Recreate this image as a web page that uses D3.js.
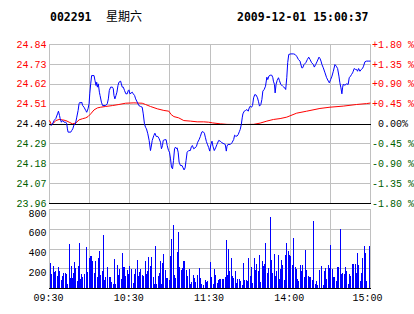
<!DOCTYPE html>
<html>
<head>
<meta charset="utf-8">
<script src="https://cdn.jsdelivr.net/npm/d3@7"></script>
<style>
    body { margin: 0; background: #fff; }
    text { font-family: "Liberation Mono", "DejaVu Sans Mono", monospace; font-size: 10px; }
    .head { font-family: "DejaVu Sans Mono", monospace; font-weight: bold; font-size: 11.5px; }
    .cjk { font-family: "Noto Sans CJK SC", sans-serif; font-size: 12px; }
    .grid line { stroke: #c0c0c0; shape-rendering: crispEdges; }
</style>
</head>
<body>
<div id="chart"></div>
<script>
// header
const stockCode = "002291";
const weekday = "星期六";
const stamp = "2009-12-01 15:00:37";

const prevClose = 24.40;
const priceTicks = [24.84, 24.73, 24.62, 24.51, 24.40, 24.29, 24.18, 24.07, 23.96];
const pctTicks = ["+1.80 %", "+1.35 %", "+0.90 %", "+0.45 %", " 0.00%", "-0.45 %", "-0.90 %", "-1.35 %", "-1.80 %"];
const volTicks = [200, 400, 600, 800];
const gridMins = [0, 30, 60, 90, 120, 150, 180, 210, 240];
const timeTicks = [0, 60, 120, 180, 240];
const timeLabels = ["09:30", "10:30", "11:30", "14:00", "15:00"];

// minutes since 09:30 (lunch break removed) and price
const priceMin = [1.0, 2.2, 3.5, 4.7, 6.0, 6.7, 7.5, 8.0, 8.9, 9.7, 10.9, 12.2, 12.9, 13.4, 13.9, 15.9, 16.6, 17.4, 18.4, 19.4,
    20.4, 21.4, 22.1, 22.9, 23.4, 24.1, 24.8, 25.8, 27.1, 27.8, 28.8, 29.6, 30.1, 30.8, 31.5, 33.3, 34.0, 34.8, 35.3, 35.8,
    36.5, 37.3, 37.8, 38.8, 39.7, 42.0, 43.2, 44.0, 44.7, 45.7, 47.0, 47.7, 48.2, 48.9, 49.7, 50.4, 51.2, 51.9, 53.2, 53.7,
    54.4, 55.2, 56.1, 57.1, 58.1, 58.9, 59.4, 60.1, 61.9, 62.6, 63.6, 64.4, 65.6, 66.8, 68.1, 69.3, 70.1, 71.0, 71.8, 72.5,
    73.5, 74.5, 75.5, 76.0, 76.8, 78.0, 78.8, 79.8, 81.0, 82.0, 83.0, 83.7, 84.5, 85.0, 86.2, 87.2, 88.0, 89.0, 89.7, 90.5,
    91.2, 92.0, 92.7, 93.5, 94.2, 95.0, 95.4, 96.2, 96.9, 97.9, 99.1, 99.9, 100.6, 101.4, 102.1, 102.9, 104.1, 105.3, 106.1, 106.8,
    107.8, 108.8, 109.8, 110.8, 111.8, 112.8, 113.8, 114.8, 115.8, 116.5, 117.3, 118.2, 119.0, 119.8, 120.7, 121.5, 122.2, 123.2, 124.2, 125.2,
    126.5, 127.7, 128.9, 131.4, 132.2, 132.7, 133.4, 135.2, 136.4, 137.7, 138.4, 139.2, 140.2, 141.1, 141.9, 142.6, 143.4, 144.1, 144.6, 145.6,
    146.6, 147.6, 148.6, 149.3, 150.1, 151.1, 151.8, 152.6, 153.5, 154.5, 155.5, 156.3, 157.0, 158.0, 158.8, 159.5, 160.5, 161.5, 162.5, 163.2,
    164.0, 165.0, 166.2, 167.0, 167.4, 168.2, 168.7, 169.4, 170.2, 171.2, 171.9, 172.9, 173.6, 174.4, 175.1, 175.9, 176.6, 177.4, 178.1, 178.9,
    180.4, 182.4, 183.6, 184.8, 186.1, 187.3, 188.6, 189.3, 190.3, 191.6, 192.8, 193.8, 194.8, 196.0, 197.3, 198.0, 199.0, 200.2, 201.5, 202.2,
    203.0, 203.7, 204.7, 206.0, 207.2, 208.5, 209.2, 210.2, 211.2, 212.2, 213.4, 214.4, 215.4, 216.4, 217.1, 217.9, 218.6, 219.1, 219.6, 220.9,
    222.1, 223.3, 224.1, 225.1, 225.8, 226.6, 227.1, 227.8, 228.8, 229.6, 230.3, 231.1, 232.1, 233.1, 234.0, 234.8, 235.8, 237.0, 238.3, 240.0];
const price = [24.39, 24.40, 24.42, 24.43, 24.456, 24.471, 24.447, 24.429, 24.41, 24.419, 24.41, 24.41, 24.401, 24.373, 24.355, 24.355, 24.364, 24.373, 24.397, 24.401,
    24.438, 24.475, 24.512, 24.521, 24.515, 24.521, 24.502, 24.493, 24.475, 24.465, 24.484, 24.512, 24.567, 24.622, 24.668, 24.668, 24.641, 24.613, 24.631, 24.604,
    24.622, 24.576, 24.558, 24.521, 24.502, 24.502, 24.512, 24.539, 24.585, 24.604, 24.604, 24.595, 24.558, 24.539, 24.558, 24.576, 24.613, 24.631, 24.637, 24.622,
    24.604, 24.604, 24.585, 24.567, 24.567, 24.585, 24.589, 24.567, 24.576, 24.567, 24.558, 24.539, 24.521, 24.502, 24.497, 24.493, 24.456, 24.401, 24.382, 24.373,
    24.346, 24.309, 24.253, 24.272, 24.309, 24.336, 24.349, 24.331, 24.331, 24.318, 24.299, 24.263, 24.281, 24.309, 24.313, 24.313, 24.281, 24.253, 24.244, 24.207,
    24.161, 24.152, 24.198, 24.263, 24.272, 24.263, 24.268, 24.244, 24.189, 24.17, 24.17, 24.157, 24.146, 24.157, 24.198, 24.244, 24.253, 24.253, 24.275, 24.281,
    24.263, 24.268, 24.275, 24.299, 24.313, 24.331, 24.355, 24.358, 24.349, 24.327, 24.303, 24.285, 24.27, 24.25, 24.287, 24.305, 24.277, 24.253, 24.268, 24.287,
    24.309, 24.305, 24.296, 24.287, 24.25, 24.277, 24.287, 24.287, 24.296, 24.314, 24.338, 24.333, 24.333, 24.342, 24.357, 24.37, 24.397, 24.434, 24.456, 24.471,
    24.475, 24.48, 24.471, 24.489, 24.499, 24.493, 24.502, 24.545, 24.563, 24.56, 24.545, 24.523, 24.499, 24.508, 24.536, 24.582, 24.591, 24.609, 24.659, 24.646,
    24.665, 24.67, 24.67, 24.656, 24.637, 24.619, 24.572, 24.619, 24.641, 24.656, 24.641, 24.619, 24.615, 24.609, 24.604, 24.60, 24.591, 24.656, 24.74, 24.785,
    24.788, 24.788, 24.785, 24.775, 24.757, 24.748, 24.711, 24.711, 24.729, 24.739, 24.757, 24.77, 24.757, 24.739, 24.729, 24.715, 24.729, 24.748, 24.77, 24.763,
    24.748, 24.729, 24.711, 24.683, 24.656, 24.637, 24.628, 24.646, 24.665, 24.692, 24.729, 24.72, 24.707, 24.665, 24.628, 24.60, 24.567, 24.60, 24.619, 24.615,
    24.622, 24.619, 24.656, 24.665, 24.674, 24.683, 24.692, 24.707, 24.702, 24.702, 24.692, 24.707, 24.692, 24.702, 24.707, 24.72, 24.744, 24.748, 24.748, 24.748];

// average price line
const avgMin = [0, 1.5, 3.0, 4.7, 7.2, 9.7, 12.2, 14.7, 17.1, 19.6, 22.1, 24.6, 27.1, 28.8, 30.8, 33.3, 35.8, 38.3, 42.0, 47.0,
    51.9, 56.9, 63.1, 69.3, 71.8, 75.5, 80.6, 85.5, 89.2, 91.0, 93.0, 96.6, 100.4, 105.3, 110.4, 115.3, 119.0, 122.0, 127.7, 132.7,
    142.6, 152.6, 157.5, 162.5, 167.4, 172.4, 177.4, 184.8, 192.3, 202.2, 209.7, 219.6, 229.6, 237.0, 240.0];
const avgPrice = [24.42, 24.395, 24.405, 24.419, 24.425, 24.423, 24.419, 24.41, 24.401, 24.405, 24.423, 24.429, 24.434, 24.441, 24.456, 24.478, 24.489, 24.493, 24.497, 24.502,
    24.508, 24.515, 24.517, 24.515, 24.508, 24.497, 24.484, 24.475, 24.471, 24.452, 24.441, 24.434, 24.419, 24.416, 24.412, 24.412, 24.41, 24.406, 24.401, 24.398,
    24.397, 24.398, 24.405, 24.416, 24.425, 24.43, 24.438, 24.46, 24.471, 24.486, 24.493, 24.499, 24.508, 24.513, 24.516];

// volume bars
const volMin = [1.0, 1.7, 3.0, 3.7, 4.5, 6.0, 7.0, 7.7, 9.0, 9.7, 10.4, 11.9, 12.7, 13.4, 14.9, 15.6, 16.4, 17.1, 17.9, 18.9,
    19.6, 20.9, 21.6, 22.4, 23.3, 24.1, 24.8, 26.3, 27.6, 28.3, 29.8, 30.6, 31.3, 32.5, 33.5, 34.3, 35.8, 36.5, 37.3, 38.5,
    39.5, 40.2, 41.2, 42.2, 43.2, 44.5, 45.5, 46.4, 47.7, 48.4, 49.4, 50.7, 51.4, 52.2, 53.7, 54.4, 55.4, 56.4, 57.1, 58.1,
    59.1, 60.1, 61.1, 62.6, 63.3, 64.3, 65.6, 66.3, 67.3, 68.3, 69.3, 70.3, 71.8, 72.3, 73.0, 74.3, 75.3, 76.3, 77.5, 78.2,
    79.2, 80.2, 81.2, 82.0, 82.7, 84.0, 84.7, 85.2, 86.4, 87.2, 88.4, 89.4, 90.4, 91.2, 92.7, 93.4, 94.1, 95.4, 96.4, 97.1,
    98.4, 99.4, 100.1, 101.3, 102.1, 103.1, 104.3, 105.3, 106.1, 107.3, 108.1, 109.0, 110.3, 111.0, 112.0, 113.0, 114.0, 115.0, 116.3, 117.2,
    118.3, 120.2, 121.0, 122.5, 123.2, 124.0, 125.5, 126.2, 126.9, 128.2, 129.2, 129.9, 131.4, 132.2, 132.9, 134.2, 134.9, 135.9, 137.1, 137.9,
    138.9, 140.1, 140.9, 141.9, 143.1, 144.1, 144.8, 146.1, 147.1, 147.8, 149.1, 150.1, 150.8, 152.0, 153.0, 153.8, 155.0, 156.0, 156.8, 158.0,
    159.0, 159.7, 160.7, 161.7, 162.7, 163.7, 165.0, 165.7, 167.0, 167.9, 168.7, 169.9, 170.9, 171.7, 172.7, 173.6, 174.4, 175.6, 176.6, 177.4,
    178.4, 179.4, 180.4, 181.6, 182.8, 183.6, 184.3, 185.3, 186.3, 187.6, 188.6, 189.5, 190.5, 191.5, 192.3, 193.5, 194.5, 195.5, 196.7, 197.7,
    198.7, 199.7, 200.7, 201.7, 203.0, 203.7, 204.5, 205.7, 206.4, 207.4, 208.7, 209.4, 210.4, 211.4, 212.4, 213.4, 214.4, 215.4, 216.4, 217.6,
    218.6, 219.4, 220.6, 221.3, 222.3, 223.6, 224.6, 225.3, 226.6, 227.5, 228.5, 229.5, 230.5, 231.3, 232.3, 233.3, 234.3, 235.5, 236.3, 237.2,
    239.5];
const vol = [253, 145, 226, 159, 176, 125, 216, 176, 84, 125, 155, 155, 145, 44, 449, 105, 226, 105, 152, 267,
    206, 74, 226, 459, 95, 145, 115, 145, 419, 165, 307, 327, 327, 277, 155, 277, 115, 307, 378, 135,
    176, 540, 84, 115, 216, 115, 115, 64, 44, 297, 44, 236, 135, 196, 95, 358, 216, 216, 125, 186,
    145, 226, 196, 54, 145, 196, 287, 125, 165, 196, 135, 125, 277, 145, 176, 317, 226, 317, 115, 44,
    429, 44, 125, 155, 277, 44, 257, 348, 186, 105, 105, 84, 327, 500, 641, 135, 105, 368, 571, 216,
    186, 206, 277, 277, 186, 125, 196, 44, 64, 135, 105, 64, 135, 125, 206, 105, 44, 34, 84, 64,
    74, 267, 108, 44, 196, 135, 47, 84, 95, 95, 95, 95, 111, 490, 135, 398, 169, 304, 125, 101,
    176, 47, 95, 95, 74, 34, 253, 84, 84, 74, 307, 118, 216, 47, 307, 186, 246, 176, 338, 64,
    277, 226, 246, 459, 155, 206, 722, 287, 155, 348, 125, 176, 338, 95, 196, 287, 236, 84, 338, 459,
    378, 338, 327, 236, 510, 216, 196, 95, 74, 236, 176, 236, 115, 388, 186, 125, 108, 115, 84, 682,
    44, 74, 34, 186, 186, 226, 34, 176, 206, 95, 236, 206, 439, 196, 115, 115, 74, 216, 216, 601,
    145, 155, 145, 216, 176, 44, 145, 125, 246, 246, 246, 155, 358, 236, 74, 155, 307, 429, 358, 74,
    429];

const W = 414, H = 314;
const left = 49, right = 370;
const priceTop = 44, priceBot = 203;
const volTop = 209, volBot = 288;

const svg = d3.select("#chart").append("svg")
    .attr("width", W)
    .attr("height", H);

const x = d3.scaleLinear().domain([0, 240]).range([left, right]);
const y = d3.scaleLinear().domain([23.96, 24.84]).range([priceBot, priceTop]);
const yv = d3.scaleLinear().domain([0, 800]).range([volBot, volTop]);

const green = "#006000", red = "#ff0000";
const tickColor = (v) => v > prevClose + 0.001 ? red : (v < prevClose - 0.001 ? green : "#000");

// header
svg.append("text").attr("class", "head").attr("x", 50).attr("y", 20.5).text(stockCode);
svg.append("text").attr("class", "cjk").attr("x", 106).attr("y", 20.5).text(weekday);
svg.append("text").attr("class", "head").attr("x", 237).attr("y", 20.5).text(stamp);

// price grid + left labels
svg.append("g")
    .attr("class", "grid")
    .attr("transform", `translate(${left},0)`)
    .call(d3.axisLeft(y).tickValues(priceTicks).tickSize(-(right - left)).tickPadding(2.5).tickFormat(d3.format(".2f")))
    .call(g => g.select(".domain").remove())
    .call(g => g.selectAll("text").attr("fill", d => tickColor(d)));

// right percent labels
svg.append("g")
    .attr("transform", `translate(${right},0)`)
    .call(d3.axisRight(y).tickValues(priceTicks).tickSize(0).tickPadding(2).tickFormat((d, i) => pctTicks[i]))
    .call(g => g.select(".domain").remove())
    .call(g => g.selectAll("text").attr("fill", d => tickColor(d)).style("white-space", "pre"));

// vertical grid, price panel
svg.append("g")
    .attr("class", "grid")
    .attr("transform", `translate(0,${priceBot})`)
    .call(d3.axisBottom(x).tickValues(gridMins).tickSize(-(priceBot - priceTop)).tickFormat(""))
    .call(g => g.select(".domain").remove());

// volume grid + labels (labels sit a little below their lines)
svg.append("g")
    .attr("class", "grid")
    .attr("transform", `translate(${left},0)`)
    .call(d3.axisLeft(yv).tickValues(volTicks).tickSize(-(right - left)).tickPadding(2.5))
    .call(g => g.select(".domain").remove())
    .call(g => g.selectAll("text").attr("fill", "#000").attr("dy", "0.72em"));

svg.append("g")
    .attr("class", "grid")
    .attr("transform", `translate(0,${volBot})`)
    .call(d3.axisBottom(x).tickValues(gridMins).tickSize(-(volBot - volTop)).tickFormat(""))
    .call(g => g.select(".domain").remove());

// time labels
svg.append("g")
    .attr("transform", `translate(0,${volBot})`)
    .call(d3.axisBottom(x).tickValues(timeTicks).tickSize(0).tickPadding(6).tickFormat((d, i) => timeLabels[i]))
    .call(g => g.select(".domain").remove())
    .call(g => g.selectAll("text").attr("fill", "#000").attr("dx", (d, i) => i === timeTicks.length - 1 ? -3 : -1));

// volume bars
svg.append("g")
    .selectAll("rect")
    .data(volMin.map((m, i) => ({ m: m, v: vol[i] })))
    .enter()
    .append("rect")
    .attr("x", d => Math.round(x(d.m)))
    .attr("y", d => Math.round(yv(d.v)))
    .attr("width", 1)
    .attr("height", d => volBot - Math.round(yv(d.v)))
    .attr("fill", "#0000ff")
    .attr("shape-rendering", "crispEdges");

// average line
const avgLine = d3.line().x(d => x(d[0]) + 0.5).y(d => y(d[1]) + 0.5);
svg.append("path")
    .datum(avgMin.map((m, i) => [m, avgPrice[i]]))
    .attr("d", avgLine)
    .attr("fill", "none")
    .attr("stroke", red)
    .attr("stroke-width", 1);

// zero line and bottom borders
const y0 = Math.round(y(prevClose)) + 0.5;
svg.append("line").attr("x1", left).attr("x2", right + 1).attr("y1", y0).attr("y2", y0)
    .attr("stroke", "#000").attr("shape-rendering", "crispEdges");
svg.append("line").attr("x1", left).attr("x2", right + 1).attr("y1", priceBot + 0.5).attr("y2", priceBot + 0.5)
    .attr("stroke", "#000").attr("shape-rendering", "crispEdges");
svg.append("line").attr("x1", left).attr("x2", right + 1).attr("y1", volBot + 0.5).attr("y2", volBot + 0.5)
    .attr("stroke", "#000").attr("shape-rendering", "crispEdges");

// price line
const priceLine = d3.line().x(d => x(d[0]) + 0.5).y(d => y(d[1]) + 0.5);
svg.append("path")
    .datum(priceMin.map((m, i) => [m, price[i]]))
    .attr("d", priceLine)
    .attr("fill", "none")
    .attr("stroke", "#0000ff")
    .attr("stroke-width", 1);
</script>
</body>
</html>
